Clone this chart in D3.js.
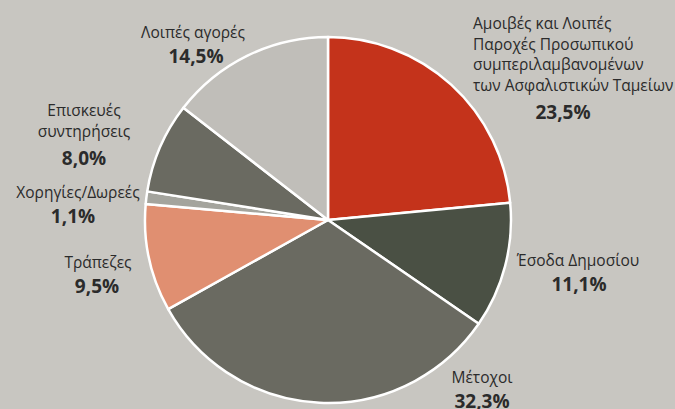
<!DOCTYPE html>
<html>
<head>
<meta charset="utf-8">
<script src="https://cdn.jsdelivr.net/npm/d3@7"></script>
<style>
  html, body { margin: 0; padding: 0; background: #c8c6c1; }
  svg { display: block; }
  text { font-family: "Open Sans", sans-serif; fill: #2b2b2b; }
  .pct { font-weight: bold; }
</style>
</head>
<body>
<script>
// shares of revenue, clockwise from 12 o'clock
var labels = [
    ["Αμοιβές και Λοιπές", "Παροχές Προσωπικού", "συμπεριλαμβανομένων", "των Ασφαλιστικών Ταμείων"],
    ["Έσοδα Δημοσίου"],
    ["Μέτοχοι"],
    ["Τράπεζες"],
    ["Χορηγίες/Δωρεές"],
    ["Επισκευές", "συντηρήσεις"],
    ["Λοιπές αγορές"]
];
var values = [23.5, 11.1, 32.3, 9.5, 1.1, 8.0, 14.5];
var colors = ["#c4331b", "#4a5044", "#6a6a61", "#e08f71", "#a4a49d", "#6a6a61", "#c0beb9"];

// where each label block sits: x, first baseline, anchor, x of the percent
var labelLayout = [
    {x: 473, y: 29, anchor: "start", px: 563},
    {x: 578, y: 266, anchor: "middle", px: 579},
    {x: 482, y: 383, anchor: "middle", px: 482},
    {x: 98, y: 268, anchor: "middle", px: 97},
    {x: 78, y: 198, anchor: "middle", px: 73},
    {x: 84, y: 116, anchor: "middle", px: 84},
    {x: 193, y: 38, anchor: "middle", px: 196}
];

var width = 675, height = 409;
var cx = 328, cy = 220, radius = 183;

var svg = d3.select("body").append("svg")
    .attr("width", width)
    .attr("height", height);

var pie = d3.pie().sort(null).value(function (d) { return d; });
var arc = d3.arc().innerRadius(0).outerRadius(radius);

var g = svg.append("g").attr("transform", "translate(" + cx + "," + cy + ")");

g.selectAll("path")
    .data(pie(values))
    .enter().append("path")
    .attr("d", arc)
    .attr("fill", function (d, i) { return colors[i]; })
    .attr("stroke", "#fff")
    .attr("stroke-width", 2.5)
    .attr("stroke-linejoin", "round");

var lineH = 20.5;

labelLayout.forEach(function (p, i) {
    var lines = labels[i];
    var t = svg.append("text")
        .attr("text-anchor", p.anchor)
        .attr("font-size", 15.5);
    lines.forEach(function (l, j) {
        t.append("tspan")
            .attr("x", p.x)
            .attr("y", p.y + j * lineH)
            .text(l);
    });
    var last = p.y + (lines.length - 1) * lineH;
    svg.append("text")
        .attr("class", "pct")
        .attr("text-anchor", "middle")
        .attr("font-size", 19)
        .attr("x", p.px)
        .attr("y", last + (lines.length > 1 ? 28 : 25))
        .text(values[i].toFixed(1).replace(".", ",") + "%");
});
</script>
</body>
</html>
